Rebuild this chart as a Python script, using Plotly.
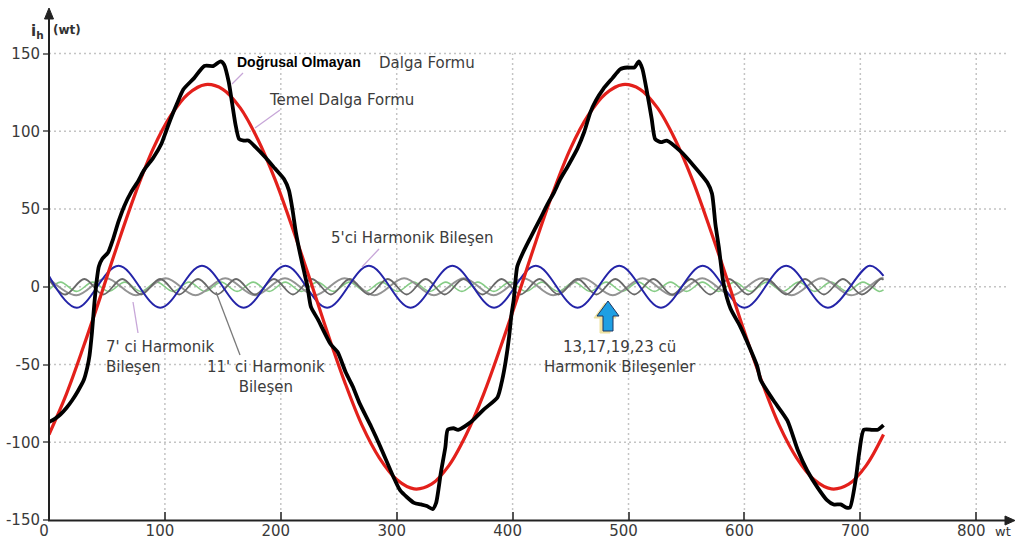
import plotly.graph_objects as go

# ---------------- data ----------------
x_ticks = [0, 100, 200, 300, 400, 500, 600, 700, 800]
y_ticks = [-150, -100, -50, 0, 50, 100, 150]

# Non-linear (distorted) waveform
black_x = [0, 5, 10, 15, 20, 25, 30, 33, 35, 37, 39, 41, 43, 46, 51, 55, 60, 65, 71, 77,
           82, 90, 97, 101, 105, 110, 116, 125, 134, 142, 148, 151, 155, 158, 161, 164, 168, 172, 178, 187,
           195, 203, 207, 210, 213, 217, 220, 223, 226, 232, 243, 249, 256, 262, 268, 278, 286, 297, 303, 315,
           321, 326, 331, 334, 338, 342, 344, 349, 353, 364, 375, 387, 391, 394, 397, 399, 401, 404, 409, 415,
           424, 430, 436, 441, 448, 456, 462, 467, 472, 478, 486, 493, 499, 505, 509, 512, 516, 520, 523, 528,
           533, 545, 556, 568, 572, 575, 578, 582, 588, 596, 605, 611, 614, 625, 637, 646, 654, 663, 671, 677,
           683, 688, 691, 696, 699, 703, 710, 715, 720]
black_y = [-87, -85, -82, -78, -73, -67, -60, -52, -44, -30, -12, 3, 13, 18, 22, 30, 42, 52, 61, 68,
           75, 83, 92, 100, 108, 117, 127, 134, 142, 142, 145, 143, 132, 118, 104, 95, 94, 94, 90, 83,
           76, 69, 62, 50, 35, 20, 10, 0, -13, -21, -37, -42, -55, -64, -75, -90, -103, -122, -131, -139,
           -140, -141, -143, -139, -120, -103, -92, -91, -92, -87, -79, -71, -60, -48, -32, -18, -8, 13, 22, 31,
           44, 53, 61, 69, 78, 89, 100, 112, 120, 127, 134, 140, 141, 141, 145, 140, 125, 108, 95, 93,
           94, 87, 78, 67, 60, 40, 25, 2, -14, -25, -40, -51, -60, -73, -86, -105, -118, -129, -137, -140,
           -140, -142, -142, -124, -107, -92, -92, -92, -89]

# Fundamental waveform
red_x = [0, 15, 30, 45, 60, 75, 90, 105, 120, 135, 150, 165, 180, 195, 210, 225, 240, 255, 270, 285,
         300, 315, 330, 345, 360, 375, 390, 405, 420, 435, 450, 465, 480, 495, 510, 525, 540, 555, 570, 585,
         600, 615, 630, 645, 660, 675, 690, 705, 720]
red_y = [-95, -69, -38, -5, 29, 61, 89, 110, 124, 130, 127, 115, 95, 69, 38, 5, -29, -61, -89, -110,
         -124, -130, -127, -115, -95, -69, -38, -5, 29, 61, 89, 110, 124, 130, 127, 115, 95, 69, 38, 5,
         -29, -61, -89, -110, -124, -130, -127, -115, -95]

# 5th harmonic (start, peaks/troughs, end)
h5_x = [0, 24, 60, 96, 132, 168, 204, 240, 276, 312, 348, 384, 420, 456, 492, 528, 564, 600, 636, 672, 708, 720]
h5_y = [7, -13.5, 13.5, -13.5, 13.5, -13.5, 13.5, -13.5, 13.5, -13.5, 13.5, -13.5, 13.5, -13.5, 13.5,
        -13.5, 13.5, -13.5, 13.5, -13.5, 13.5, 7]

# 7th harmonic
h7_x = [0, 23.6, 49.3, 75.0, 100.7, 126.4, 152.1, 177.9, 203.6, 229.3, 255.0, 280.7, 306.4, 332.1, 357.9,
        383.6, 409.3, 435.0, 460.7, 486.4, 512.1, 537.9, 563.6, 589.3, 615.0, 640.7, 666.4, 692.1, 717.9, 720]
h7_y = [5.3, -5.5, 5.5, -5.5, 5.5, -5.5, 5.5, -5.5, 5.5, -5.5, 5.5, -5.5, 5.5, -5.5, 5.5,
        -5.5, 5.5, -5.5, 5.5, -5.5, 5.5, -5.5, 5.5, -5.5, 5.5, -5.5, 5.5, -5.5, 5.5, 5.4]

# 11th harmonic
h11_x = [0, 14.1, 30.5, 46.8, 63.2, 79.5, 95.9, 112.3, 128.6, 145.0, 161.4, 177.7, 194.1, 210.5, 226.8,
         243.2, 259.5, 275.9, 292.3, 308.6, 325.0, 341.4, 357.7, 374.1, 390.5, 406.8, 423.2, 439.5, 455.9,
         472.3, 488.6, 505.0, 521.4, 537.7, 554.1, 570.5, 586.8, 603.2, 619.5, 635.9, 652.3, 668.6, 685.0,
         701.4, 717.7, 720]
h11_y = [4.5, -5, 5, -5, 5, -5, 5, -5, 5, -5, 5, -5, 5, -5, 5,
         -5, 5, -5, 5, -5, 5, -5, 5, -5, 5, -5, 5, -5, 5,
         -5, 5, -5, 5, -5, 5, -5, 5, -5, 5, -5, 5, -5, 5,
         -5, 5, 4.5]

# 13,17,19,23rd harmonics (combined, light green)
hh_x = [0, 10.0, 23.8, 37.7, 51.5, 65.4, 79.2, 93.1, 106.9, 120.8, 134.6, 148.5, 162.3, 176.2, 190.0,
        203.8, 217.7, 231.5, 245.4, 259.2, 273.1, 286.9, 300.8, 314.6, 328.5, 342.3, 356.2,
        370.0, 383.8, 397.7, 411.5, 425.4, 439.2, 453.1, 466.9, 480.8, 494.6, 508.5, 522.3, 536.2, 550.0,
        563.8, 577.7, 591.5, 605.4, 619.2, 633.1, 646.9, 660.8, 674.6, 688.5, 702.3, 716.2, 720]
hh_y = [-1.9, 3, -3, 3, -3, 3, -3, 3, -3, 3, -3, 3, -3, 3, -3,
        3, -3, 3, -3, 3, -3, 3, -3, 3, -3, 3, -3,
        3, -3, 3, -3, 3, -3, 3, -3, 3, -3, 3, -3, 3, -3,
        3, -3, 3, -3, 3, -3, 3, -3, 3, -3, 3, -3, -2.0]

# ---------------- geometry helpers (layout only) ----------------
W, H = 1016, 550
L, RR, T, B = 49, 1011, 12, 520
XMAX = 830.0
SY = (520 - 53.5) / 300.0
YMIN = -150.0
YMAX = YMIN + (B - T) / SY
SX = (RR - L) / XMAX


def dx(p):
    return (p - L) / SX


def dy(p):
    return (B - p) / SY + YMIN


def PX(p):
    return (p - L) / (RR - L)


def PY(p):
    return (B - p) / (B - T)


TXT = "#3c3c3c"
FONT = "DejaVu Sans"

fig = go.Figure()

fig.add_trace(go.Scatter(x=hh_x, y=hh_y, mode="lines", line=dict(color="#86cc86", width=1.6, shape="spline"),
                         hoverinfo="skip", showlegend=False))
fig.add_trace(go.Scatter(x=h7_x, y=h7_y, mode="lines", line=dict(color="#939393", width=2, shape="spline"),
                         hoverinfo="skip", showlegend=False))
fig.add_trace(go.Scatter(x=h11_x, y=h11_y, mode="lines", line=dict(color="#686868", width=1.8, shape="spline"),
                         hoverinfo="skip", showlegend=False))
fig.add_trace(go.Scatter(x=h5_x, y=h5_y, mode="lines", line=dict(color="#2424a8", width=2, shape="spline"),
                         hoverinfo="skip", showlegend=False))
fig.add_trace(go.Scatter(x=red_x, y=red_y, mode="lines", line=dict(color="#e3201b", width=3.2, shape="spline"),
                         hoverinfo="skip", showlegend=False))
fig.add_trace(go.Scatter(x=black_x, y=black_y, mode="lines",
                         line=dict(color="#000000", width=3.8, shape="spline", smoothing=0.6),
                         hoverinfo="skip", showlegend=False))

shapes = []
grid = dict(color="#c4c4c4", width=1.5, dash="2px,3px")
for xv in x_ticks[1:]:
    shapes.append(dict(type="line", xref="x", yref="y", x0=xv, x1=xv, y0=-150, y1=150, line=grid, layer="below"))
for yv in y_ticks[1:]:
    shapes.append(dict(type="line", xref="x", yref="y", x0=0, x1=dx(1006), y0=yv, y1=yv, line=grid, layer="below"))

axis_col = "#222222"
# axes lines with arrows
shapes.append(dict(type="line", xref="paper", yref="paper", x0=PX(49), x1=PX(49), y0=PY(521), y1=PY(16),
                   line=dict(color=axis_col, width=2)))
shapes.append(dict(type="path", xref="paper", yref="paper",
                   path=f"M {PX(49)},{PY(8)} L {PX(53.5)},{PY(19)} L {PX(44.5)},{PY(19)} Z",
                   fillcolor=axis_col, line=dict(color=axis_col, width=1)))
shapes.append(dict(type="line", xref="paper", yref="paper", x0=PX(48), x1=PX(1008), y0=PY(520.5), y1=PY(520.5),
                   line=dict(color=axis_col, width=2)))
shapes.append(dict(type="path", xref="paper", yref="paper",
                   path=f"M {PX(1015)},{PY(520.5)} L {PX(1005)},{PY(516)} L {PX(1005)},{PY(525)} Z",
                   fillcolor=axis_col, line=dict(color=axis_col, width=1)))

# pointer lines
lilac = dict(color="#c7a6d8", width=1.3)
for (a, b, c, d), ln in [((243, 73, 232, 84), lilac), ((280, 110, 255, 128), lilac),
                         ((379, 249, 362, 267), lilac), ((138, 333, 133, 302), lilac),
                         ((240, 355, 216, 292), dict(color="#7a7a7a", width=1.3))]:
    shapes.append(dict(type="line", xref="x", yref="y", x0=dx(a), y0=dy(b), x1=dx(c), y1=dy(d), line=ln))

# blue up arrow (13,17,19,23)
def arrow_path(ox, oy):
    pts = [(608, 301), (619, 316), (613, 316), (613, 331), (603, 331), (603, 316), (597, 316)]
    s = " L ".join(f"{PX(px + ox)},{PY(py + oy)}" for px, py in pts)
    return "M " + s + " Z"

shapes.append(dict(type="path", xref="paper", yref="paper", path=arrow_path(-3, 2),
                   fillcolor="#eee2a2", line=dict(color="#eee2a2", width=1)))
shapes.append(dict(type="path", xref="paper", yref="paper", path=arrow_path(0, 0),
                   fillcolor="#1e9fe3", line=dict(color="#1d3560", width=1)))

ann = []


def add_text(text, px, py, xanchor="left", size=15, color=TXT, family=FONT, align="left"):
    ann.append(dict(text=text, x=dx(px), y=dy(py), xref="x", yref="y", xanchor=xanchor, yanchor="middle",
                    showarrow=False, align=align, font=dict(family=family, size=size, color=color)))


add_text("<b>Doğrusal Olmayan</b>", 235, 62, family="Liberation Sans", size=14, color="#000000")
add_text("Dalga Formu", 377, 63)
add_text("Temel Dalga Formu", 267, 100)
add_text("5'ci Harmonik Bileşen", 329, 238)
add_text("7' ci Harmonik<br>Bileşen", 104, 357)
add_text("11' ci Harmonik<br>Bileşen", 266, 377, xanchor="center", align="center")
add_text("13,17,19,23 cü<br>Harmonik Bileşenler", 620, 357, xanchor="center", align="center")

# axis titles
ann.append(dict(text="<b>i<sub>h</sub></b>",
                x=PX(29), y=PY(31), xref="paper", yref="paper", xanchor="left", yanchor="middle",
                showarrow=False, font=dict(family=FONT, size=15, color="#333333")))
ann.append(dict(text="<b>(wt)</b>",
                x=PX(51), y=PY(30), xref="paper", yref="paper", xanchor="left", yanchor="middle",
                showarrow=False, font=dict(family=FONT, size=12, color="#333333")))
ann.append(dict(text="wt", x=PX(993), y=PY(531), xref="paper", yref="paper", xanchor="left", yanchor="middle",
                showarrow=False, font=dict(family=FONT, size=13, color="#333333")))

fig.update_layout(
    width=W, height=H,
    margin=dict(l=L, r=W - RR, t=T, b=H - B),
    paper_bgcolor="white", plot_bgcolor="white",
    shapes=shapes, annotations=ann,
    xaxis=dict(range=[0, XMAX], tickvals=x_ticks, ticktext=[str(v) for v in x_ticks],
               showgrid=False, zeroline=False, showline=False,
               ticks="inside", ticklen=8, tickcolor="#555555", tickwidth=1.5,
               tickfont=dict(family=FONT, size=15, color="#3a3a3a"), ticklabelshift=-5,
               fixedrange=True),
    yaxis=dict(range=[YMIN, YMAX], tickvals=y_ticks, ticktext=[str(v) for v in y_ticks],
               showgrid=False, zeroline=False, showline=False,
               ticks="outside", ticklen=5, tickcolor="#777777", tickwidth=1.5,
               tickfont=dict(family=FONT, size=15, color="#3a3a3a"),
               fixedrange=True),
)

fig.write_html("out.html")
